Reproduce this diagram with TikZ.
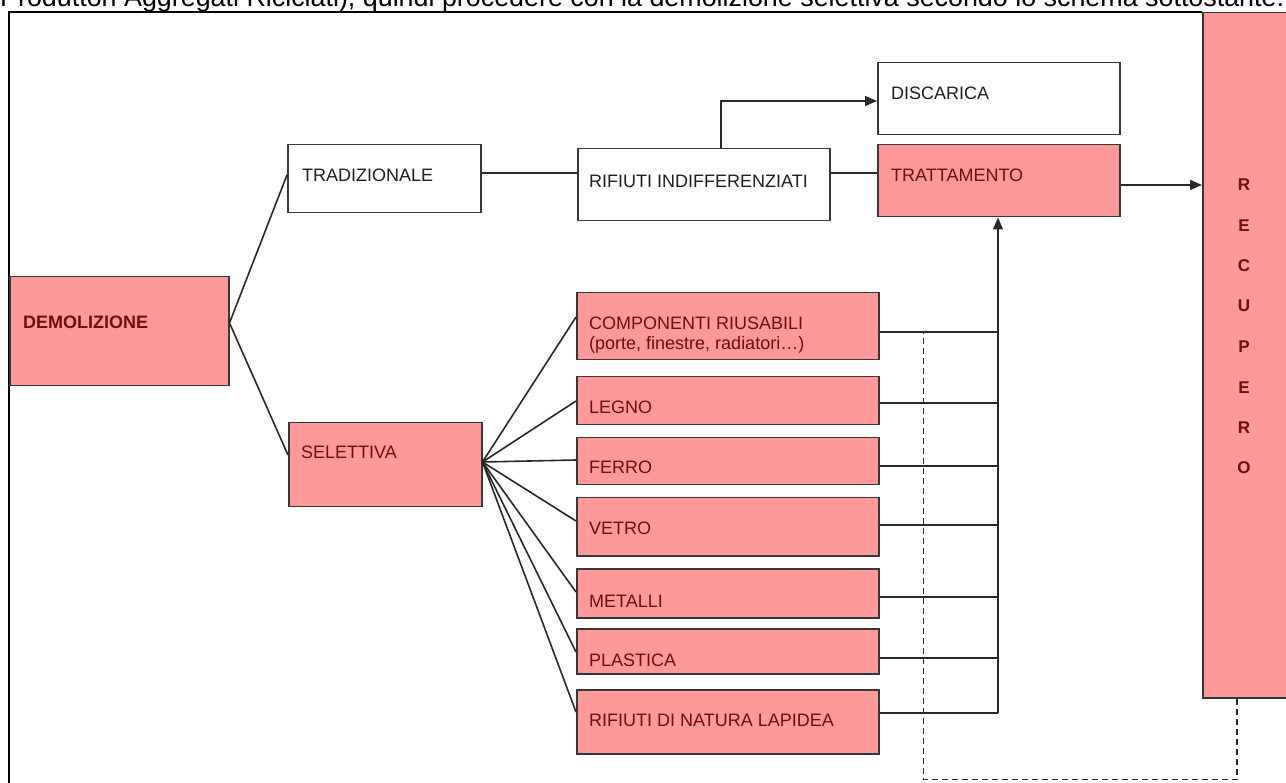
\documentclass[tikz,border=0pt]{standalone}
\usepackage{fontspec}
\setmainfont{Liberation Sans}
\usetikzlibrary{arrows.meta,calc}
\definecolor{pinkf}{RGB}{255,153,153}
\definecolor{redtxt}{RGB}{115,12,12}
\definecolor{bordc}{RGB}{55,55,55}
\definecolor{linec}{RGB}{40,40,40}
\begin{document}
\begin{tikzpicture}[x=1pt,y=-1pt,
  box/.style={draw=bordc,line width=1.5pt,rectangle,anchor=north west,inner sep=0pt},
  pbox/.style={box,fill=pinkf},
  wbox/.style={box,fill=white},
  lbl/.style={anchor=base west,inner sep=0pt,font=\fontsize{18}{20}\selectfont,text=black!88,align=left},
  rlbl/.style={lbl,text=redtxt},
  letter/.style={anchor=base,inner sep=0pt,font=\fontsize{17}{20}\selectfont\bfseries,text=redtxt},
  conn/.style={draw=linec,line width=1.6pt},
  arr/.style={conn,-{Triangle[length=12pt,width=10pt]}},
  dashconn/.style={draw=linec,line width=1.6pt,dash pattern=on 6pt off 4pt}
]
\useasboundingbox (0,0) rectangle (1286,783);
% cropped sentence at the top
\node[anchor=base west,inner sep=0pt] (toptext) at (0,6.5)
  {\resizebox{1284pt}{!}{Produttori Aggregati Riciclati), quindi procedere con la demolizione selettiva secondo lo schema sottostante.}};
% frame
\coordinate (fbl) at (9,783);
\coordinate (ftl) at (9,12);
\coordinate (ftr) at (1202,12);
\draw[black,line width=2.4pt] (fbl) -- (ftl) -- (ftr);

% boxes
\node[pbox,minimum width=219pt,minimum height=109pt] (demol) at (9,276) {};
\node[wbox,minimum width=193pt,minimum height=68pt] (trad) at (287,144) {};
\node[pbox,minimum width=193pt,minimum height=84pt] (sel) at (288,422) {};
\node[wbox,minimum width=252pt,minimum height=72pt] (rif) at (577,148) {};
\node[wbox,minimum width=242pt,minimum height=72pt] (disc) at (877,62) {};
\node[pbox,minimum width=242pt,minimum height=72pt] (tratt) at (877,144) {};
\node[pbox,minimum width=302pt,minimum height=67pt] (comp) at (576,292) {};
\node[pbox,minimum width=302pt,minimum height=48pt] (legno) at (576,376) {};
\node[pbox,minimum width=302pt,minimum height=47pt] (ferro) at (576,437) {};
\node[pbox,minimum width=302pt,minimum height=58pt] (vetro) at (576,497) {};
\node[pbox,minimum width=302pt,minimum height=49pt] (metalli) at (576,568) {};
\node[pbox,minimum width=302pt,minimum height=45pt] (plastica) at (576,628) {};
\node[pbox,minimum width=302pt,minimum height=64pt] (lapidea) at (576,689) {};
\node[pbox,minimum width=90pt,minimum height=685pt] (recup) at (1202,12) {};

% labels
\node[rlbl,font=\fontsize{18}{20}\selectfont\bfseries] (tdemol) at (23,329) {DEMOLIZIONE};
\node[lbl] (ttrad) at (302,182) {TRADIZIONALE};
\node[rlbl] (tsel) at (301,459) {SELETTIVA};
\node[lbl] (trif) at (589,188) {RIFIUTI INDIFFERENZIATI};
\node[lbl] (tdisc) at (891,100) {DISCARICA};
\node[rlbl] (ttratt) at (891,182) {TRATTAMENTO};
\node[rlbl] (tcomp1) at (589,330) {COMPONENTI RIUSABILI};
\node[rlbl] (tcomp2) at (589,350) {(porte, finestre, radiatori\ldots)};
\node[rlbl] (tlegno) at (589,414) {LEGNO};
\node[rlbl] (tferro) at (589,474) {FERRO};
\node[rlbl] (tvetro) at (589,534) {VETRO};
\node[rlbl] (tmetalli) at (589,607) {METALLI};
\node[rlbl] (tplastica) at (589,666) {PLASTICA};
\node[rlbl] (tlapidea) at (589,726) {RIFIUTI DI NATURA LAPIDEA};
\foreach \l/\yy [count=\i] in {R/191,E/232,C/272,U/312,P/353,E/394,R/434,O/474}
  \node[letter] (rec\i) at (1244,\yy) {\l};

% connectors: demolizione fan
\coordinate (dO) at ($(demol.north east)+(0,47)$);
\draw[conn] ($(trad.north west)+(0,31)$) -- (dO) -- ($(sel.north west)+(0,33)$);
% traditional chain
\coordinate (tr1) at ($(trad.north east)+(0,29)$);
\draw[conn] (tr1) -- (tr1 -| rif.west);
\coordinate (rf1) at ($(rif.north east)+(0,25)$);
\draw[conn] (rf1) -- (rf1 -| tratt.west);
\coordinate (rtop) at ($(rif.north west)+(144,0)$);
\coordinate (dsc) at ($(disc.north west)+(0,39)$);
\draw[arr] (rtop) |- (dsc);
\coordinate (tt1) at ($(tratt.north east)+(0,41)$);
\draw[arr] (tt1) -- (tt1 -| recup.west);

% selettiva fan
\coordinate (sO) at ($(sel.north east)+(0,40)$);
\draw[conn] (sO) -- ($(comp.north west)+(0,25)$);
\draw[conn] (sO) -- ($(legno.north west)+(0,25)$);
\draw[conn] (sO) -- ($(ferro.north west)+(0,23)$);
\draw[conn] (sO) -- ($(vetro.north west)+(0,24)$);
\draw[conn] (sO) -- ($(metalli.north west)+(0,24)$);
\draw[conn] (sO) -- ($(plastica.north west)+(0,24)$);
\draw[conn] (sO) -- ($(lapidea.north west)+(0,23)$);

% collector
\coordinate (colx) at ($(tratt.south west)+(121,0)$);
\coordinate (c1) at ($(comp.north east)+(0,40)$);
\coordinate (c2) at ($(legno.north east)+(0,27)$);
\coordinate (c3) at ($(ferro.north east)+(0,29)$);
\coordinate (c4) at ($(vetro.north east)+(0,28)$);
\coordinate (c5) at ($(metalli.north east)+(0,29)$);
\coordinate (c6) at ($(plastica.north east)+(0,30)$);
\coordinate (c7) at ($(lapidea.north east)+(0,24)$);
\foreach \c in {c1,c2,c3,c4,c5,c6,c7}
  \draw[conn] (\c) -- (\c -| colx);
\draw[arr] (c7 -| colx) -- (colx);

% dashed return
\coordinate (rb) at ($(recup.south west)+(35,0)$);
\coordinate (dbr) at ($(rb)+(0,81)$);
\coordinate (dx) at ($(comp.north east)+(44,40)$);
\draw[dashconn] (rb) -- (dbr) -- (dbr -| dx) -- (dx);
\end{tikzpicture}
\end{document}
